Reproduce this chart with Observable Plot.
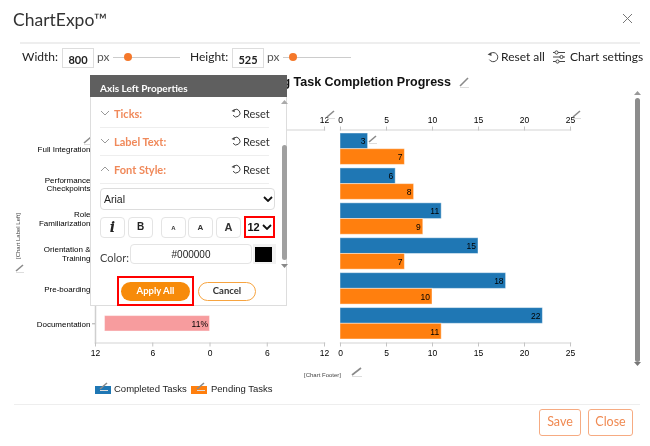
<!DOCTYPE html>
<html><head><meta charset="utf-8">
<script src="https://cdn.jsdelivr.net/npm/d3@7"></script>
<script src="https://cdn.jsdelivr.net/npm/@observablehq/plot@0.6"></script>
<style>
html,body{margin:0;padding:0;background:#fff;overflow:hidden}
#page{position:relative;width:650px;height:446px;overflow:hidden;font-family:Lato,sans-serif;color:#222;filter:blur(.3px)}
#page svg{position:absolute}
.t{position:absolute;white-space:nowrap;transform:translateY(-50%);line-height:1}
.b{position:absolute;box-sizing:border-box}
</style></head><body><div id="page"></div>
<script>
const categories=["Full Integration","Performance\nCheckpoints","Role\nFamiliarization","Orientation &\nTraining","Pre-boarding","Documentation"];
const completedTasks=[3,6,11,15,18,22];
const pendingTasks=[7,8,9,7,10,11];
const leftCategories=["Documentation"];
const leftShares=[11];
const rightTicks=[0,5,10,15,20,25];
const leftTicks=[-12,-6,0,6,12];
const leftTopTicks=[12];
const blue="#1f77b4",orange="#ff7f0e",pink="#f79c9e";
const arial='"Liberation Sans",Arial,sans-serif';
const page=document.getElementById("page");
const sharedY={domain:categories,padding:0.1,round:false,axis:null};
const sharedStyle={fontFamily:arial,fontSize:"8px",color:"#000",background:"transparent",overflow:"visible"};
function axis(anchor,ticks,fmt){
  return Plot.axisX({anchor,ticks,tickFormat:fmt,tickSize:4,tickPadding:3,stroke:"#c4c4c4",fill:"#000",fontSize:8.5});
}
// Left (butterfly) panel
const left=Plot.plot({width:340,height:270,marginLeft:95,marginRight:16,marginTop:29.5,marginBottom:27.5,
  style:sharedStyle,x:{domain:[-12,12],axis:null},y:sharedY,
  marks:[
    Plot.frame({anchor:"top",stroke:"#e2e2e2",strokeWidth:1.5}),
    Plot.frame({anchor:"bottom",stroke:"#e2e2e2",strokeWidth:1.5}),
    Plot.frame({anchor:"left",stroke:"#cfcfcf",strokeWidth:1.5}),
    axis("top",leftTopTicks,d=>Math.abs(d)),
    axis("bottom",leftTicks,d=>Math.abs(d)),
    Plot.axisY({domain:categories,anchor:"left",tickSize:3,tickPadding:2,stroke:"#aaa",fill:"#000",fontSize:8,lineHeight:1.1,label:null}),
    Plot.barX(leftShares,{x1:0,x2:d=>-d,y:(d,i)=>leftCategories[i],insetTop:8,insetBottom:8,fill:pink,stroke:"#fff",strokeOpacity:.4}),
    Plot.text(leftShares,{x:0,y:(d,i)=>leftCategories[i],text:d=>d+"%",textAnchor:"end",dx:-2,fill:"#000",fontSize:8.5})
  ]});
left.style.left="0px";left.style.top="100px";page.appendChild(left);
// Right panel
const right=Plot.plot({width:270,height:270,marginLeft:20,marginRight:20,marginTop:29.5,marginBottom:27.5,
  style:sharedStyle,x:{domain:[0,25],axis:null},y:sharedY,
  marks:[
    Plot.frame({anchor:"top",stroke:"#e2e2e2",strokeWidth:1.5}),
    Plot.frame({anchor:"bottom",stroke:"#e2e2e2",strokeWidth:1.5}),
    axis("top",rightTicks,d=>d),
    axis("bottom",rightTicks,d=>d),
    Plot.barX(completedTasks,{x:d=>d,y:(d,i)=>categories[i],insetBottom:15.7,fill:blue,stroke:"#fff",strokeOpacity:.45}),
    Plot.barX(pendingTasks,{x:d=>d,y:(d,i)=>categories[i],insetTop:15.7,fill:orange,stroke:"#fff",strokeOpacity:.45}),
    Plot.text(completedTasks,{x:d=>d,y:(d,i)=>categories[i],text:d=>d,dy:-7.5,dx:-2.5,textAnchor:"end",fill:"#000",fontSize:8.5}),
    Plot.text(pendingTasks,{x:d=>d,y:(d,i)=>categories[i],text:d=>d,dy:8,dx:-2.5,textAnchor:"end",fill:"#000",fontSize:8.5})
  ]});
right.style.left="319.5px";right.style.top="100px";page.appendChild(right);

// Interface chrome around the chart
function box(x,y,w,h,css=""){const d=document.createElement("div");d.className="b";d.style.cssText=`left:${x}px;top:${y}px;width:${w}px;height:${h}px;${css}`;page.appendChild(d);return d;}
function text(s,x,y,size,css=""){const d=document.createElement("div");d.className="t";d.textContent=s;d.style.cssText=`left:${x}px;top:${y}px;font-size:${size}px;${css}`;page.appendChild(d);return d;}
function rtext(s,x,y,size,css=""){const d=text(s,0,y,size,css);d.style.left="auto";d.style.right=(650-x)+"px";return d;}
function ctext(s,x,y,size,css=""){const d=text(s,x,y,size,css);d.style.transform="translate(-50%,-50%)";return d;}
function svgIcon(x,y,w,h,inner){page.insertAdjacentHTML("beforeend",`<svg style="left:${x}px;top:${y}px" width="${w}" height="${h}" viewBox="0 0 ${w} ${h}" fill="none">${inner}</svg>`);}
function pencil(x,y,w=9,h=8){svgIcon(x,y,w+1,h+2,`<path d="M1 ${h-1}L${w-1} 1" stroke="#8a8a8a" stroke-width="1.6"/><path d="M1 ${h+.5}H${w}" stroke="#ddd"/>`);}
function resetIcon(x,y,s=11){svgIcon(x,y,s,s,`<path d="M${s*.3} ${s*.2}A${s*.38} ${s*.38} 0 1 1 ${s*.2} ${s*.72}" stroke="#444"/><path d="M${s*.05} ${s*.3}L${s*.35} ${s*.1}L${s*.38} ${s*.42}Z" fill="#444"/>`);}
function chevron(x,y,up,c="#999"){svgIcon(x,y,10,6,`<path d="${up?"M1 5L5 1L9 5":"M1 1L5 5L9 1"}" stroke="${c}"/>`);}
function boldChevron(x,y){svgIcon(x,y,10,6,`<path d="M1 1L5 5L9 1" stroke="#111" stroke-width="1.8"/>`);}

// Header
text("ChartExpo™",13,20,17.5,"color:#333");
svgIcon(622,13,11,11,`<path d="M1 1L10 10M10 1L1 10" stroke="#777"/>`);
box(20,42,620,2,"background:#eee");
text("Width:",22,57,12);
box(62,48,32,20,"border:1px solid #ddd");
ctext("800",78,58.5,11,"font-weight:700;");
text("px",97,57,12,"color:#555");
box(113,56.5,67,1.5,"background:#ccc");
box(124,53,8,8,"background:#f5782a;border-radius:50%");
text("Height:",190,57,12);
box(232,48,32,20,"border:1px solid #ddd");
ctext("525",248,58.5,11,"font-weight:700;");
text("px",267,57,12,"color:#555");
box(283,56.5,68,1.5,"background:#ccc");
box(289,53,8,8,"background:#f5782a;border-radius:50%");
resetIcon(487,51,12);
text("Reset all",501,57,12);
svgIcon(552,50,14,14,`<path d="M1 2.5H13M1 7H13M1 11.5H13" stroke="#444"/><circle cx="4.5" cy="2.5" r="1.6" fill="#fff" stroke="#444"/><circle cx="9.5" cy="7" r="1.6" fill="#fff" stroke="#444"/><circle cx="5.5" cy="11.5" r="1.6" fill="#fff" stroke="#444"/>`);
text("Chart settings",570,57,12);

// Chart title, annotations and legend
rtext("Onboarding Task Completion Progress",451,82,12.5,`font-family:${arial};font-weight:700;color:#111`);
pencil(459,77,10,10);
pencil(326,110);pencil(572,110);pencil(368,135);pencil(83,136);pencil(15,264);
const lbl=text("[Chart Label Left]",18,236,6,`font-family:${arial};color:#444`);
lbl.style.transform="translate(-50%,-50%) rotate(-90deg)";
text("[Chart Footer]",304,375,6,`font-family:${arial};color:#444`);
pencil(351,367,11,9);
box(95,386,16,8,`background:${blue}`);
box(191,386,16,8,`background:${orange}`);
pencil(99,382);pencil(196,382);
text("Completed Tasks",114,389,9.5,`font-family:${arial};color:#222`);
text("Pending Tasks",211,389,9.5,`font-family:${arial};color:#222`);

// Scrollbar on the chart area
box(635,98,4.5,264,"background:#8c8c8c;border-radius:3px");
svgIcon(634,91,7,4,`<path d="M0 4L3.5 0L7 4Z" fill="#999"/>`);
svgIcon(634,362,7,4,`<path d="M0 0L3.5 4L7 0Z" fill="#777"/>`);

// Footer
box(14,403.5,626,1.5,"background:#eee");
box(539,409,42,27,"border:1.5px solid #f6ab82;border-radius:3px");
ctext("Save",560,422,12.5,"color:#f08a52");
box(588,409,45,27,"border:1.5px solid #f6ab82;border-radius:3px");
ctext("Close",610.5,422,12.5,"color:#f08a52");

// Properties popup
box(90,75,197,231,"background:#fff;border:1px solid #ddd;border-top:none");
box(90,75,197,22,"background:#5f5f5f");
text("Axis Left Properties",100,88,10,"color:#fff;font-weight:700");
const secs=[["Ticks:",113],["Label Text:",141],["Font Style:",169]];
secs.forEach(([s,y],i)=>{
  chevron(100,y-3,i===2);
  text(s,114,y,11,"color:#f0895a;font-weight:700");
  resetIcon(231,y-5,10);
  text("Reset",243,y,11,"color:#333");
  box(100,y+13.5,169,1,"background:#eee");
});
box(100,188,175,22,"border:1px solid #ddd;border-radius:4px");
text("Arial",104,199,10.5,`font-family:${arial};color:#222`);
boldChevron(263,196);
[[100,25],[128,25],[161,25],[188,25],[216,25]].forEach(([x,w])=>box(x,217,w,21,"border:1px solid #e4e4e4;border-radius:4px"));
ctext("i",112.5,227,14,'font-family:"DejaVu Serif",serif;font-style:italic;font-weight:700;color:#222');
ctext("B",140.5,227,10,`font-family:${arial};font-weight:700;color:#222`);
ctext("A",173.5,228,6,`font-family:${arial};font-weight:700;color:#333`);
ctext("A",200.5,228,8,`font-family:${arial};font-weight:700;color:#333`);
ctext("A",228.5,227,11,`font-family:${arial};font-weight:700;color:#333`);
box(244,216,31,22,"border:2px solid #f00");
text("12",247.5,227,11,`font-family:${arial};font-weight:700;color:#111`);
boldChevron(262,224);
text("Color:",100,257,11,"color:#444");
box(130,244,122,20,"border:1px solid #e4e4e4;border-radius:4px");
ctext("#000000",191,255,10,`font-family:${arial};color:#222`);
box(253,244,23,20,"background:#f2f2f2");
box(255,247,17,15,"background:#000");
box(282,145,4.5,115,"background:#a0a0a0;border-radius:3px");
svgIcon(280.5,100,7,4,`<path d="M0 4L3.5 0L7 4Z" fill="#aaa"/>`);
svgIcon(280.5,264,7,4,`<path d="M0 0L3.5 4L7 0Z" fill="#888"/>`);
box(117,276,77,30,"border:2px solid #f00");
box(121,282,69,19,"background:#f78b0a;border-radius:10px");
ctext("Apply All",155.5,291,9.5,"color:#fff;font-weight:700");
box(198,282,58,19,"background:#fff;border:1px solid #f7a440;border-radius:10px");
ctext("Cancel",227,291,9.5,"color:#333;font-weight:700");
</script></body></html>
